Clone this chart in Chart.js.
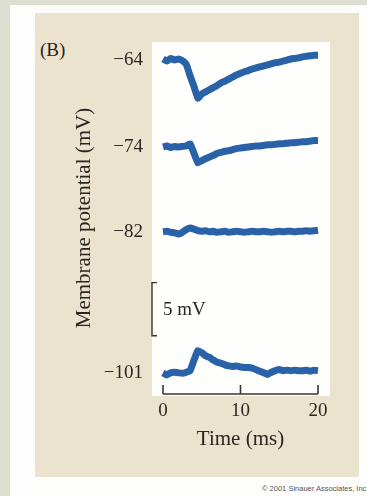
<!DOCTYPE html>
<html>
<head>
<meta charset="utf-8">
<script src="https://cdn.jsdelivr.net/npm/chart.js@4.4.1/dist/chart.umd.min.js"></script>
<style>
  html, body { margin: 0; padding: 0; }
  body { width: 367px; height: 496px; position: relative; overflow: hidden; background: #dcdfd2; font-family: 'Liberation Serif', serif; }
  .sheet { position: absolute; left: 10px; top: 5px; right: 0; bottom: 0; background: #fdfdfb; }
  .panel { position: absolute; left: 35px; top: 13px; width: 324px; height: 464px; background: #ebe3cd; }
  .plotbox { position: absolute; left: 152px; top: 42px; width: 178px; height: 354px; background: #fefefd; }
  .tag { position: absolute; left: 40px; top: 39px; font-size: 19px; color: #2b2622; }
  .copy { position: absolute; left: 262px; top: 484px; font-family: 'Liberation Sans', sans-serif; font-size: 7.5px; color: #555; white-space: nowrap; }
  canvas { position: absolute; left: 0; top: 0; }
</style>
</head>
<body>
<div class="sheet"></div>
<div class="panel"></div>
<div class="plotbox"></div>
<div class="tag">(B)</div>
<div class="copy">© 2001 Sinauer Associates, Inc.</div>
<canvas id="chart" width="367" height="496"></canvas>
<script>
// time axis (ms)
const timeMs = [0, 0.5, 1, 1.5, 2, 2.5, 3, 3.5, 4, 4.5, 5, 5.5, 6, 6.5, 7, 7.5, 8, 8.5, 9, 9.5, 10,
  10.5, 11, 11.5, 12, 12.5, 13, 13.5, 14, 14.5, 15, 15.5, 16, 16.5, 17, 17.5, 18, 18.5, 19, 19.5, 20];

// deviation from resting potential (mV) for each holding level
const trace64 = [0.1, -0.1, 0.15, 0, 0.1, -0.05, -0.4, -1.5, -2.5, -3.6, -3.2, -3.0, -2.8, -2.6, -2.4, -2.15, -2.0, -1.8, -1.6, -1.4, -1.25,
  -1.1, -1.0, -0.85, -0.75, -0.65, -0.55, -0.45, -0.35, -0.25, -0.2, -0.1, 0.0, 0.1, 0.15, 0.2, 0.3, 0.35, 0.4, 0.45, 0.45];
const trace74 = [0, 0.1, -0.05, 0.05, 0, 0.05, 0.1, 0.3, -0.6, -1.5, -1.3, -1.1, -0.95, -0.8, -0.6, -0.5, -0.4, -0.35, -0.25, -0.15, -0.1,
  -0.05, 0, 0.05, 0.1, 0.1, 0.15, 0.2, 0.2, 0.25, 0.3, 0.3, 0.35, 0.4, 0.4, 0.45, 0.5, 0.5, 0.55, 0.6, 0.6];
const trace82 = [0, 0.05, -0.05, -0.1, -0.2, -0.05, 0.2, 0.35, 0.25, 0.1, 0.05, 0.1, 0, 0.05, -0.05, 0, 0.05, -0.05, 0, 0.05, 0,
  -0.05, 0, 0.05, 0, 0, 0.05, 0, -0.05, 0, 0.05, 0, 0.05, 0.05, 0, 0.05, 0.05, 0.1, 0.05, 0.1, 0.15];
const trace101 = [0, -0.2, 0, 0.05, 0, -0.05, 0.05, 0.2, 1.2, 2.1, 1.9, 1.6, 1.45, 1.2, 1.0, 0.9, 0.75, 0.65, 0.6, 0.65, 0.55,
  0.5, 0.5, 0.45, 0.3, 0.15, 0.0, -0.15, 0.05, 0.2, 0.3, 0.2, 0.25, 0.2, 0.25, 0.2, 0.2, 0.25, 0.15, 0.25, 0.2];

// holding potential labels and where each trace sits on the stacked display axis
const holdLabels = ['\u221264', '\u221274', '\u221282', '\u2212101'];
const holdOffsets = [31.5, 23.3, 15.3, 2.0];
const xTicks = [0, 10, 20];
const scaleBarMv = 5;
const scaleBarBase = 5.5;

const inkColor = '#2b2622';
const traceColor = '#2a62aa';
const serif = "'Liberation Serif', 'DejaVu Serif', serif";

function makeTrace(devs, offset) {
  return timeMs.map((t, i) => ({ x: t, y: offset + devs[i] }));
}

const traces = [trace64, trace74, trace82, trace101];

const datasets = traces.map((devs, i) => ({
  label: holdLabels[i],
  data: makeTrace(devs, holdOffsets[i]),
  borderColor: traceColor,
  borderWidth: 7,
  pointRadius: 0,
  tension: 0.1,
  borderJoinStyle: 'round',
  borderCapStyle: 'butt',
  clip: false,
}));

// axis line with inward ticks, plus the 5 mV scale bar
const extrasPlugin = {
  id: 'extras',
  afterDraw(chart) {
    const ctx = chart.ctx;
    const xs = chart.scales.x;
    const ys = chart.scales.y;
    const area = chart.chartArea;
    ctx.save();
    ctx.strokeStyle = '#3a3430';
    ctx.lineWidth = 1.6;
    let yb = area.bottom;
    ctx.beginPath();
    ctx.moveTo(xs.getPixelForValue(xTicks[0]), yb);
    ctx.lineTo(xs.getPixelForValue(xTicks[xTicks.length - 1]), yb);
    xTicks.forEach(function (t) {
      let px = xs.getPixelForValue(t);
      ctx.moveTo(px, yb);
      ctx.lineTo(px, yb - 9);
    });
    ctx.stroke();

    // scale bar
    let bx = area.left - 11;
    let y1 = ys.getPixelForValue(scaleBarBase);
    let y2 = ys.getPixelForValue(scaleBarBase + scaleBarMv);
    ctx.lineWidth = 1.4;
    ctx.beginPath();
    ctx.moveTo(bx + 5, y2);
    ctx.lineTo(bx, y2);
    ctx.lineTo(bx, y1);
    ctx.lineTo(bx + 5, y1);
    ctx.stroke();
    ctx.fillStyle = inkColor;
    ctx.font = '19px ' + serif;
    ctx.textBaseline = 'middle';
    ctx.textAlign = 'left';
    ctx.fillText(scaleBarMv + ' mV', area.left, (y1 + y2) / 2 + 1);
    ctx.restore();
  },
};

new Chart(document.getElementById('chart'), {
  type: 'line',
  data: { datasets: datasets },
  options: {
    responsive: false,
    animation: false,
    devicePixelRatio: 1,
    layout: { padding: { left: 40, top: 42, right: 49, bottom: 42 } },
    plugins: { legend: { display: false }, tooltip: { enabled: false } },
    scales: {
      x: {
        type: 'linear',
        min: 0,
        max: 20,
        border: { display: false },
        grid: { display: false, drawTicks: false },
        ticks: { stepSize: 10, padding: 6, color: inkColor, font: { family: serif, size: 19 } },
        title: { display: true, text: 'Time (ms)', color: inkColor, font: { family: serif, size: 21 }, padding: { top: 0, bottom: 2 } },
        afterFit(scale) { scale.height = 60; },
      },
      y: {
        type: 'linear',
        min: 0,
        max: 33.2,
        border: { display: false },
        grid: { display: false, drawTicks: false },
        afterBuildTicks(scale) {
          scale.ticks = holdOffsets.slice().sort((a, b) => a - b).map(v => ({ value: v }));
        },
        ticks: {
          autoSkip: false,
          padding: 20,
          color: inkColor,
          font: { family: serif, size: 19 },
          callback(value) { return holdLabels[holdOffsets.indexOf(value)]; },
        },
        title: { display: true, text: 'Membrane potential (mV)', color: inkColor, font: { family: serif, size: 21 }, padding: { top: 32, bottom: 0 } },
        afterFit(scale) { scale.width = 123; },
      },
    },
  },
  plugins: [extrasPlugin],
});
</script>
</body>
</html>
